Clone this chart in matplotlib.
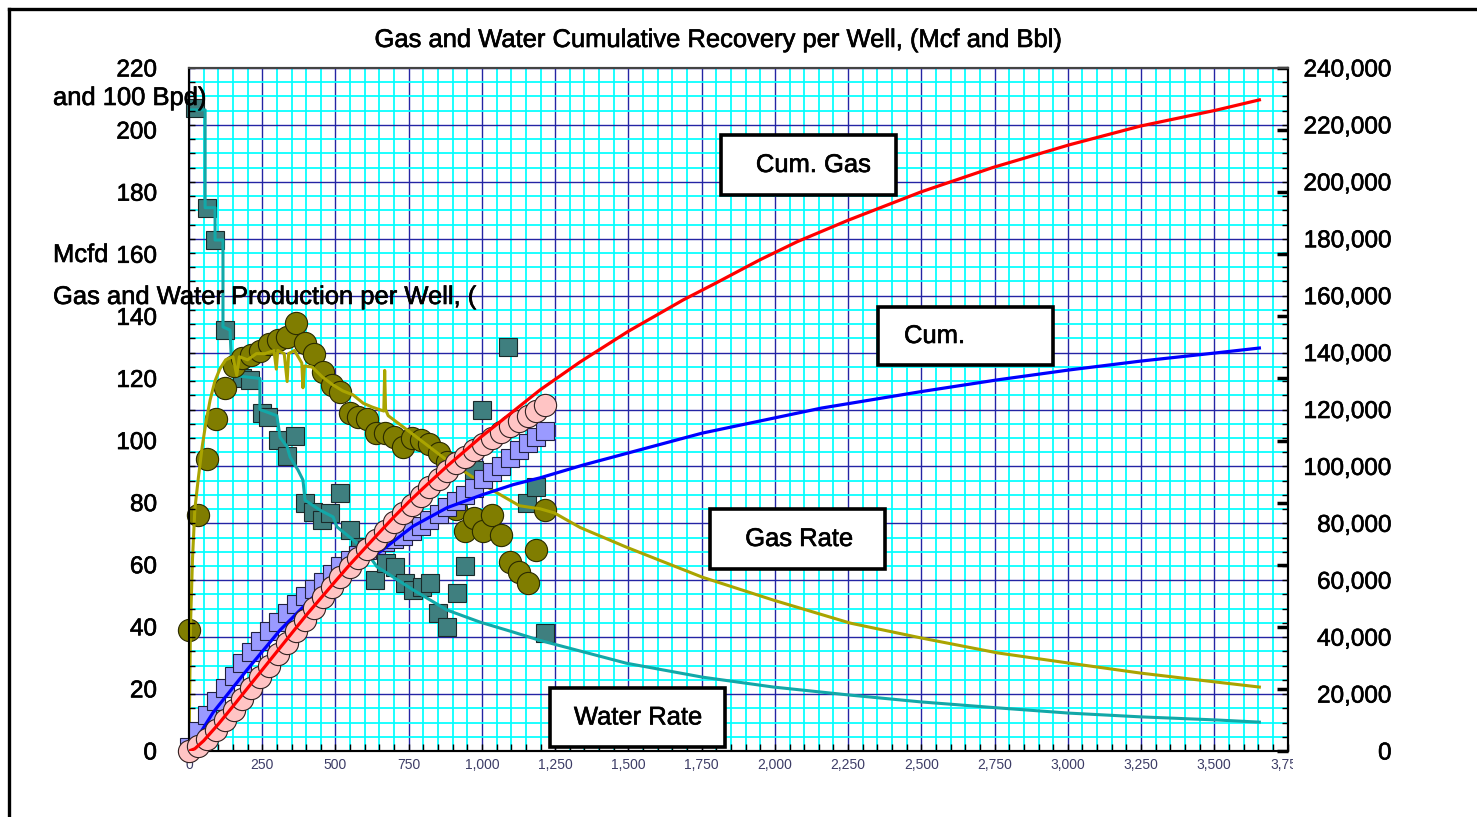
import matplotlib
matplotlib.use('Agg')
import matplotlib.pyplot as plt
import matplotlib.patheffects as pe
from matplotlib.patches import Rectangle
from matplotlib.lines import Line2D
from matplotlib.ticker import MultipleLocator, FuncFormatter
from matplotlib.transforms import Bbox, TransformedBbox

BIG_FONT, BIG, TXT = 'Liberation Sans', 17.5, 18.4
HEAVY = [pe.withStroke(linewidth=0.45, foreground='black')]

W, H = 1477, 817

# ---- monthly well data ----
month_days = [0, 30, 61, 91, 122, 152, 182, 213, 243, 274, 304, 335, 365, 396, 426, 456,
              487, 517, 548, 578, 608, 639, 669, 700, 730, 760, 791, 821, 852, 882, 913,
              943, 973, 1004, 1034, 1065, 1095, 1125, 1156, 1186, 1216]
gas_rate_pts = [39, 76, 94, 107, 117, 124, 126.5, 127.5, 129, 131, 132.3, 133.5, 137.8,
                131.5, 128, 122, 118, 115.7, 108.8, 107.5, 107, 102.4, 102.4, 101, 98,
                100.8, 100.2, 99, 96, 93, 78, 71, 75, 71, 76, 69.5, 61, 57.7, 54, 64.7, 77.6]
cum_gas_pts = [0, 1700, 4300, 7400, 10800, 14500, 18300, 22100, 26000, 30000, 34000, 38000,
               42100, 46200, 50200, 54000, 57600, 61200, 64600, 67900, 71100, 74300, 77400,
               80500, 83600, 86600, 89600, 92700, 95600, 98500, 101100, 103400, 105600,
               107800, 110000, 112200, 114200, 116000, 117700, 119500, 121700]
cum_water_pts = [1500, 7000, 12500, 17500, 22000, 26500, 30800, 34800, 38500, 42000, 45300,
                 48500, 51500, 54300, 57000, 59500, 62300, 64900, 67100, 69000, 70800, 72300,
                 73500, 74600, 75700, 77300, 79100, 81200, 83300, 85700, 87900, 90000, 92400,
                 95600, 98000, 100200, 103000, 105800, 108200, 110300, 112400]

water_days = [20, 61, 89, 123, 181, 208, 249, 270, 304, 335, 362, 396, 423, 454, 482, 516,
              550, 584, 635, 673, 704, 738, 765, 796, 823, 850, 881, 915, 943, 973, 1001,
              1089, 1154, 1185, 1216]
water_rate_pts = [207, 175, 164.6, 135.6, 120, 119.5, 109, 107.6, 100.2, 95, 101.5, 80, 77,
                  74.4, 76.7, 83, 71.2, 65.7, 55, 60.6, 59.3, 54, 52, 52.8, 54, 44.5, 40, 51,
                  59.6, 90.5, 109.8, 130, 80, 85, 38]

# ---- rate history + forecast lines ----
gas_line_days = [0, 5, 12, 20, 32, 45, 58, 72, 88, 105, 125, 150, 163, 172, 200, 230, 260,
                 290, 298, 303, 325, 335, 340, 360, 385, 389, 394, 420, 455, 490, 525, 560,
                 595, 625, 665, 668, 671, 680, 745, 820, 880, 948, 1036, 1128, 1199, 1247,
                 1335, 1492, 1752, 1995, 2257, 2500, 2760, 3005, 3248, 3507, 3654]
gas_line = [0, 40, 62, 78, 88, 98, 106, 113, 119, 123, 126, 127, 121, 127, 126, 128, 128,
            129, 123, 129, 128, 119, 128, 129, 125, 117, 124, 123.7, 120.5, 118, 116, 114.7,
            112, 110.8, 109.5, 122.6, 110, 108, 103.4, 98, 93.7, 89.5, 84, 79, 78, 76.7,
            72, 65.7, 56, 48.6, 41.2, 36.4, 31.6, 28.3, 25.1, 22.2, 20.6]

water_line_days = [3, 55, 55, 89, 89, 116, 116, 140, 147, 242, 242, 300, 311, 335, 345, 372,
                   389, 396, 447, 492, 505, 560, 608, 642, 676, 765, 881, 994, 1107, 1199,
                   1492, 1752, 1995, 2257, 2500, 2760, 3005, 3248, 3507, 3654]
water_line = [206.5, 206.5, 175, 175, 164.6, 164.6, 136.6, 135.6, 121, 120, 110, 108, 101,
              98, 94.7, 90.5, 87.3, 80.8, 77.6, 75.4, 72.2, 68, 63.8, 59.3, 57.3, 51.9, 45.4,
              41.5, 38.3, 35.6, 28.3, 23.8, 20.6, 18, 15.8, 13.9, 12.2, 11, 10, 9.3]

# ---- cumulative curves ----
cum_gas_days = [0, 20, 50, 100, 150, 200, 250, 300, 350, 400, 450, 500, 550, 600, 650, 700,
                750, 800, 880, 1000, 1100, 1200, 1335, 1500, 1687, 1800, 1947, 2077, 2250,
                2500, 2743, 3005, 3248, 3507, 3654]
cum_gas = [0, 800, 3600, 9400, 15700, 22100, 28500, 34900, 41300, 47700, 53700, 59700,
           65600, 71200, 76800, 82300, 87500, 92400, 100000, 110600, 118800, 127000, 136700,
           147500, 158500, 164500, 172500, 179000, 186500, 196500, 205000, 213000, 219600,
           225200, 228800]
cum_water_days = [0, 82, 198, 311, 447, 608, 652, 765, 881, 1000, 1107, 1199, 1346, 1752,
                  2159, 2500, 2759, 3005, 3248, 3507, 3654]
cum_water = [0, 13500, 28500, 42500, 56500, 67500, 70000, 79000, 85500, 90000, 93600, 96000,
             100500, 111700, 120500, 126300, 130400, 133900, 137000, 139900, 141600]

fig = plt.figure(figsize=(W / 100, H / 100), dpi=100)
fig.patch.set_facecolor('white')

rect = [189 / W, 1 - 751 / H, (1287.5 - 189) / W, (751 - 68) / H]

# background grid (cumulative scale)
axg = fig.add_axes(rect, zorder=0)
axg.set_xlim(0, 3750)
axg.set_ylim(0, 240000)
axg.xaxis.set_major_locator(MultipleLocator(250))
axg.xaxis.set_minor_locator(MultipleLocator(50))
axg.yaxis.set_major_locator(MultipleLocator(20000))
axg.yaxis.set_minor_locator(MultipleLocator(5000))
axg.grid(which='minor', color='#00ffff', lw=1.25)
axg.grid(which='major', color='#2424a4', lw=1.0)
axg.tick_params(which='both', length=0, labelbottom=False, labelleft=False)
for s in axg.spines.values():
    s.set_visible(False)

# rates (left axis)
ax1 = fig.add_axes(rect, zorder=1)
ax1.patch.set_visible(False)
ax1.plot(water_days, water_rate_pts, 's', ms=13, mfc='#3f7f7f', mec='#1a2a2a', mew=0.8,
         clip_on=False, zorder=2)
ax1.plot(water_line_days, water_line, color='#12a8a8', lw=2.2, zorder=3)
ax1.plot(month_days, gas_rate_pts, 'o', ms=16, mfc='#807d00', mec='#2a2a00', mew=0.8,
         clip_on=False, zorder=4)
ax1.plot(gas_line_days, gas_line, color='#aaa400', lw=2.2, zorder=5)
ax1.set_xlim(0, 3750)
ax1.set_ylim(0, 220)

# cumulative (right axis)
ax2 = ax1.twinx()
ax2.plot(month_days, cum_water_pts, 's', ms=13, mfc='#9a9aff', mec='#202040', mew=0.8,
         clip_on=False, zorder=2)
ax2.plot(cum_water_days, cum_water, color='#0000ff', lw=2.3, zorder=3)
ax2.plot(month_days, cum_gas_pts, 'o', ms=16, mfc='#ffc4c4', mec='#302020', mew=0.8,
         clip_on=False, zorder=4)
ax2.plot(cum_gas_days, cum_gas, color='#ff0000', lw=2.3, zorder=5)
ax2.set_ylim(0, 240000)

# x axis
ax1.xaxis.set_major_locator(MultipleLocator(250))
ax1.xaxis.set_minor_locator(MultipleLocator(50))
ax1.xaxis.set_major_formatter(FuncFormatter(lambda v, p: f'{int(v):,}'))
ax1.tick_params(axis='x', which='both', direction='in', length=5, width=1, top=False,
                labelsize=10, labelcolor='#3c3c66', pad=5)
for lbl in ax1.get_xticklabels():
    lbl.set_fontfamily('Liberation Sans')

# left scale: labels left, heavy marks on the right edge
ax1.set_yticks(range(0, 221, 20))
ax1.tick_params(axis='y', left=False, right=True, direction='in', length=8, width=2.5,
                labelleft=True, labelright=False, labelsize=BIG, pad=23)

# right scale
ax2.set_yticks(range(0, 240001, 20000))
ax2.yaxis.set_minor_locator(MultipleLocator(5000))
ax2.yaxis.set_major_formatter(FuncFormatter(lambda v, p: f'{int(v):,}'))
ax2.tick_params(axis='y', which='both', left=True, right=True, direction='in', length=4,
                width=1, labelleft=False, labelright=True, labelsize=BIG, pad=75)

for lbl in ax1.get_yticklabels() + ax2.get_yticklabels():
    lbl.set_fontfamily(BIG_FONT)
    lbl.set_path_effects(HEAVY)
for lbl in ax2.get_yticklabels():
    lbl.set_horizontalalignment('right')

for ax in (ax1, ax2):
    for s in ax.spines.values():
        s.set_linewidth(1.5)
        s.set_color('black')
    ax.spines['top'].set_color('#444444')

# last x label runs off the chart panel
panel_clip = TransformedBbox(Bbox([[0, 0], [1293 / W, 1]]), fig.transFigure)
for lbl in ax1.get_xticklabels():
    lbl.set_clip_box(panel_clip)
    lbl.set_clip_on(True)


def fx(x):
    return x / W


def fy(y):
    return 1 - y / H


txt = dict(fontfamily=BIG_FONT, fontsize=TXT, color='black', zorder=20, path_effects=HEAVY)
fig.text(fx(718), fy(40), 'Gas and Water Cumulative Recovery per Well, (Mcf and Bbl)',
         ha='center', va='center', **txt)
fig.text(fx(53), fy(98), 'and 100 Bpd)', ha='left', va='center', **txt)
fig.text(fx(53), fy(255), 'Mcfd', ha='left', va='center', **txt)
fig.text(fx(53), fy(297), 'Gas and Water Production per Well, (', ha='left', va='center', **txt)

# callout boxes
boxes = [((721, 135, 896, 195), 'Cum. Gas', 'center', 813),
         ((878, 307, 1053, 365), 'Cum.', 'left', 904),
         ((710, 509, 885, 569), 'Gas Rate', 'center', 799),
         ((550, 688, 725, 747), 'Water Rate', 'center', 638)]
for (x0, y0, x1, y1), label, ha, tx in boxes:
    fig.add_artist(Rectangle((fx(x0), fy(y1)), (x1 - x0) / W, (y1 - y0) / H,
                             transform=fig.transFigure, facecolor='white',
                             edgecolor='black', lw=2.6, zorder=15))
    fig.text(fx(tx), fy((y0 + y1) / 2), label, ha=ha, va='center', **txt)

# outer frame (top and left edges)
fig.add_artist(Line2D([fx(9), fx(W)], [fy(9), fy(9)], transform=fig.transFigure,
                      color='black', lw=2.4, zorder=30))
fig.add_artist(Line2D([fx(9), fx(9)], [fy(9), fy(H)], transform=fig.transFigure,
                      color='black', lw=2.4, zorder=30))

fig.savefig('out.png', dpi=100)
